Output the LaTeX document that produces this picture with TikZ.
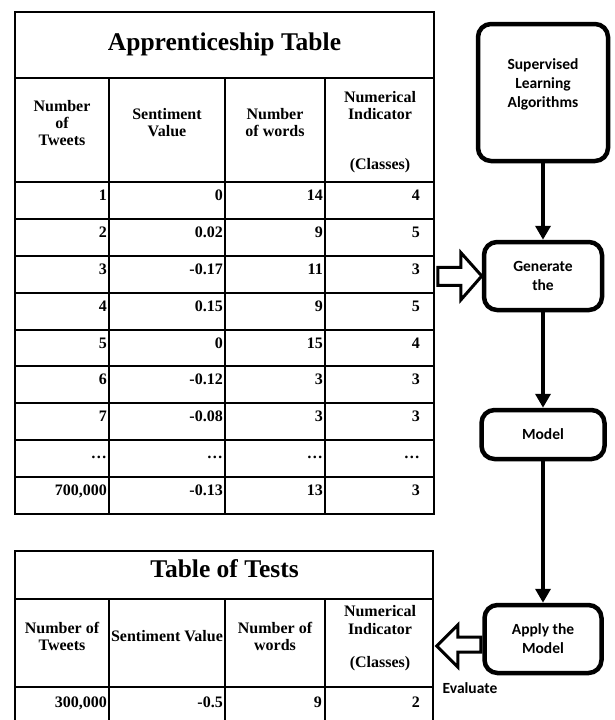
\documentclass[tikz,border=0pt]{standalone}
\usepackage{fontspec}
\setmainfont{Liberation Serif}
\newfontfamily\calibfont{Carlito}
\usetikzlibrary{arrows.meta}
\begin{document}
\begin{tikzpicture}[x=1pt,y=-1pt,
  grid/.style={line width=2pt},
  ttl/.style={font=\fontsize{25.5}{28}\selectfont\bfseries, inner sep=0pt, anchor=base},
  hdr/.style={font=\fontsize{16}{17}\selectfont\bfseries, align=center, inner sep=0pt},
  cell/.style={font=\fontsize{16}{17}\selectfont\bfseries, inner sep=0pt, anchor=base east},
  flow/.style={draw, line width=4.5pt, rounded corners=13pt, fill=white, inner sep=0pt},
  ftxt/.style={font=\calibfont\fontsize{15.5}{19}\selectfont\bfseries, align=center, inner sep=0pt},
  conn/.style={line width=4pt, -{Triangle[length=14pt,width=15pt]}},
  hollow/.style={draw, line width=3pt, fill=white, line join=miter}]
\useasboundingbox (0,0) rectangle (614,720);
\fill[white] (0,0) rectangle (614,720);

% ---------- Apprenticeship table ----------
\draw[grid] (15,12) rectangle (434,514);
\draw[grid] (15,78) -- (434,78);
\foreach \i in {0,...,8} { \draw[grid] (15,{182+36.89*\i}) -- (434,{182+36.89*\i}); }
\foreach \x in {109,225,325} { \draw[grid] (\x,78) -- (\x,514); }

\node[ttl] (t1) at (224.5,50) {Apprenticeship Table};
\node[hdr] (h1a) at (62,123.5) {Number\\of\\Tweets};
\node[hdr] (h1b) at (167,123) {Sentiment\\Value};
\node[hdr] (h1c) at (275,123) {Number\\of words};
\node[hdr] (h1d) at (380,132.5) {Numerical\\Indicator\\[33pt](Classes)};

\foreach \a/\b/\c/\d [count=\i from 0] in {1/0/14/4, 2/0.02/9/5, 3/-0.17/11/3, 4/0.15/9/5, 5/0/15/4, 6/-0.12/3/3, 7/-0.08/3/3, …/…/…/…, {700,000}/-0.13/13/3} {
  \node[cell] (ra\i) at (107,{182+36.89*\i+18.5}) {\a};
  \node[cell] (rb\i) at (223,{182+36.89*\i+18.5}) {\b};
  \node[cell] (rc\i) at (323,{182+36.89*\i+18.5}) {\c};
  \node[cell] (rd\i) at (420,{182+36.89*\i+18.5}) {\d};
}

% ---------- Table of tests ----------
\draw[grid] (15,724) -- (15,551) -- (433,551) -- (433,724);
\draw[grid] (15,599) -- (433,599);
\draw[grid] (15,687) -- (433,687);
\foreach \x in {109,225,325} { \draw[grid] (\x,599) -- (\x,724); }

\node[ttl] (t2) at (224.5,577) {Table of Tests};
\node[hdr] (h2a) at (62,636) {Number of\\Tweets};
\node[hdr] (h2b) at (167,636.5) {Sentiment Value};
\node[hdr] (h2c) at (275,636) {Number of\\words};
\node[hdr] (h2d) at (380,638) {Numerical\\[1pt]Indicator\\[16pt](Classes)};
\node[cell] (sa) at (107,707) {300,000};
\node[cell] (sb) at (223,707) {-0.5};
\node[cell] (sc) at (322,707) {9};
\node[cell] (sd) at (420,707) {2};

% ---------- flow ----------
\node[flow, minimum width=130pt, minimum height=137pt] (sup) at (543,92.5) {};
\node[ftxt] (supt) at (543,84) {Supervised\\Learning\\Algorithms};
\node[flow, ftxt, minimum width=118pt, minimum height=68pt] (gen) at (543,276) {Generate\\the};
\node[flow, ftxt, minimum width=123pt, minimum height=49pt] (mod) at (543,434.5) {Model};
\node[flow, ftxt, minimum width=117pt, minimum height=68pt] (app) at (543,639) {Apply the\\Model};

\draw[conn] (sup.south) -- (gen.north);
\draw[conn] (gen.south) -- (mod.north);
\draw[conn] (mod.south) -- (app.north);

\draw[hollow] (gen.west) -- ++(-21,-23.5) -- ++(0,14.75) -- ++(-23,0) -- ++(0,18) -- ++(23,0) -- ++(0,14.75) -- cycle;
\draw[hollow] (app.west) ++(-1.5,-2) -- ++(-23,0) -- ++(0,-12) -- ++(-21,21) -- ++(21,21) -- ++(0,-15) -- ++(23,0) -- cycle;
\node[ftxt] (ev) at (470,688) {Evaluate};
\end{tikzpicture}
\end{document}
